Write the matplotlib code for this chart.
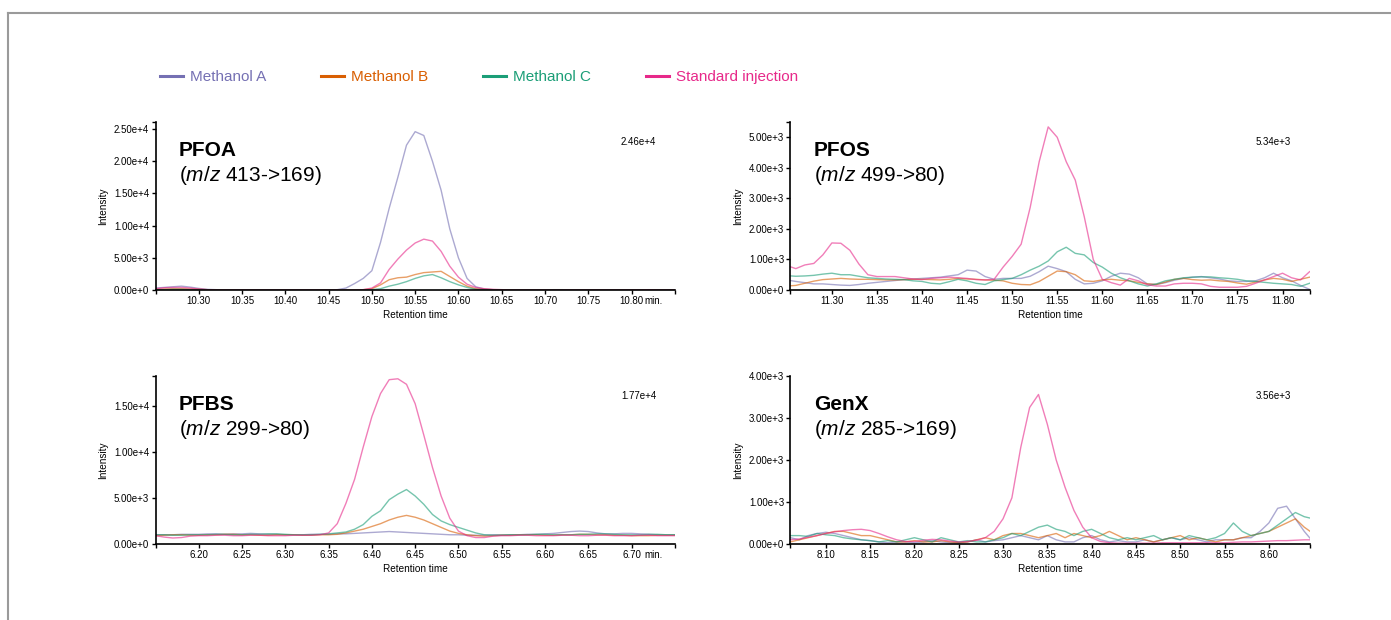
import numpy as np
import matplotlib
matplotlib.use("Agg")
import matplotlib.pyplot as plt
from matplotlib.lines import Line2D

plt.rcParams["font.family"] = ["Liberation Sans", "DejaVu Sans"]
plt.rcParams["mathtext.fontset"] = "custom"
plt.rcParams["mathtext.it"] = "Liberation Sans:italic"
plt.rcParams["mathtext.rm"] = "Liberation Sans"

series = ["Methanol A", "Methanol B", "Methanol C", "Standard injection"]
colors = ["#7570b3", "#d95f02", "#1b9e77", "#e7298a"]

# ---- PFOA (m/z 413->169): 10.25-10.85 min every 0.01, intensity x1e3
pfoa_t0, pfoa_dt, pfoa_scale = 10.25, 0.01, 1e3
pfoa_a = [0.3, 0.4, 0.5, 0.6, 0.45, 0.25, 0.1, 0.05, 0, 0,
          0, 0, 0, 0, 0, 0, 0, 0, 0, 0,
          0, 0.05, 0.3, 1.0, 1.8, 3.0, 7.4, 12.7, 17.5, 22.5,
          24.6, 24.0, 20.0, 15.5, 9.5, 5.0, 1.8, 0.5, 0.15, 0.05,
          0, 0, 0, 0, 0, 0, 0, 0, 0, 0,
          0, 0, 0, 0, 0, 0, 0, 0, 0, 0, 0]
pfoa_b = [0.1, 0.15, 0.2, 0.2, 0.15, 0.1, 0.05, 0, 0, 0,
          0, 0, 0, 0, 0, 0, 0, 0, 0, 0,
          0, 0, 0, 0, 0.05, 0.2, 0.8, 1.6, 1.9, 2.0,
          2.4, 2.7, 2.8, 2.9, 2.1, 1.3, 0.6, 0.2, 0.1, 0.05,
          0.05, 0.02, 0, 0, 0, 0, 0, 0, 0, 0,
          0, 0, 0, 0, 0, 0, 0, 0, 0, 0, 0]
pfoa_c = [0.05, 0.05, 0.1, 0.1, 0.05, 0, 0, 0, 0, 0,
          0, 0, 0, 0, 0, 0, 0, 0, 0, 0,
          0, 0, 0, 0, 0, 0.05, 0.2, 0.6, 0.9, 1.3,
          1.8, 2.2, 2.4, 1.9, 1.3, 0.8, 0.4, 0.1, 0.05, 0,
          0, 0, 0, 0, 0, 0, 0.05, 0.05, 0, 0,
          0, 0, 0, 0, 0, 0, 0, 0, 0, 0, 0]
pfoa_std = [0.2, 0.35, 0.4, 0.4, 0.3, 0.15, 0.05, 0, 0, 0,
            0, 0, 0, 0, 0, 0, 0, 0, 0, 0,
            0, 0, 0, 0, 0.05, 0.3, 1.1, 3.2, 4.8, 6.2,
            7.3, 7.9, 7.6, 6.0, 3.7, 2.0, 0.9, 0.4, 0.2, 0.1,
            0.05, 0, 0, 0, 0, 0, 0, 0, 0, 0,
            0, 0, 0, 0, 0, 0, 0, 0.05, 0, 0, 0]

# ---- PFOS (m/z 499->80): 11.25-11.83 min every 0.01, intensity x1e2
pfos_t0, pfos_dt, pfos_scale = 11.25, 0.01, 1e2
pfos_a = [3.3, 2.8, 2.4, 2.0, 2.0, 1.8, 1.6, 1.5, 1.8, 2.2,
          2.5, 2.8, 3.1, 3.4, 3.6, 3.8, 4.0, 4.2, 4.6, 5.0,
          6.5, 6.2, 4.4, 3.5, 3.8, 3.8, 3.8, 4.5, 6.0, 7.8,
          7.0, 6.0, 3.5, 2.0, 2.2, 3.0, 4.5, 5.5, 5.2, 4.0,
          2.0, 1.8, 2.4, 3.2, 3.8, 4.2, 4.4, 4.0, 3.6, 3.0,
          2.8, 2.8, 3.0, 4.0, 5.5, 4.0, 3.0, 1.5, 0.2]
pfos_b = [1.3, 1.5, 2.2, 2.9, 3.4, 3.6, 3.8, 3.6, 3.5, 3.5,
          3.4, 3.3, 3.3, 3.4, 3.5, 3.5, 3.4, 3.3, 3.5, 3.8,
          3.6, 3.5, 3.3, 3.2, 3.0, 2.2, 1.8, 1.7, 2.8, 4.5,
          6.2, 6.0, 5.0, 3.0, 2.8, 3.3, 3.5, 3.2, 3.0, 2.5,
          2.0, 1.8, 2.6, 3.5, 3.8, 3.4, 3.2, 3.3, 3.0, 2.8,
          2.3, 1.9, 2.6, 3.3, 3.8, 3.5, 2.8, 3.5, 4.2]
pfos_c = [4.7, 4.5, 4.6, 4.8, 5.2, 5.5, 5.0, 5.0, 4.5, 4.0,
          3.8, 3.6, 3.5, 3.4, 3.0, 2.8, 2.2, 2.0, 2.7, 3.5,
          3.0, 2.2, 1.8, 3.0, 3.4, 3.8, 5.0, 6.5, 7.8, 9.5,
          12.5, 14.0, 12.0, 11.5, 9.0, 7.5, 5.5, 4.0, 3.0, 2.0,
          1.3, 2.0, 3.0, 3.5, 4.0, 4.2, 4.3, 4.3, 4.0, 3.8,
          3.5, 3.0, 2.8, 2.5, 2.2, 2.0, 1.8, 1.2, 2.2]
pfos_std = [8.0, 7.0, 8.2, 8.7, 11.5, 15.4, 15.3, 13.0, 8.5, 5.0,
            4.4, 4.4, 4.4, 4.0, 3.6, 3.4, 3.8, 4.0, 4.2, 4.0,
            3.8, 3.4, 3.3, 3.5, 7.5, 11.0, 15.0, 27.0, 42.0, 53.4,
            50.0, 42.0, 36.0, 24.0, 10.0, 3.5, 2.4, 1.6, 3.8, 3.0,
            1.7, 1.3, 1.3, 2.0, 2.2, 2.2, 2.0, 1.2, 0.9, 0.9,
            0.9, 1.2, 2.2, 3.3, 4.4, 5.5, 4.0, 3.3, 6.0]

# ---- PFBS (m/z 299->80): 6.15-6.75 min every 0.01, intensity x1e3
pfbs_t0, pfbs_dt, pfbs_scale = 6.15, 0.01, 1e3
pfbs_a = [1.0, 1.0, 1.0, 1.05, 1.05, 1.05, 1.1, 1.1, 1.05, 1.1,
          1.1, 1.15, 1.1, 1.05, 1.05, 1.0, 1.0, 1.0, 1.05, 1.05,
          1.05, 1.1, 1.1, 1.15, 1.2, 1.25, 1.3, 1.35, 1.3, 1.25,
          1.2, 1.15, 1.1, 1.05, 1.0, 1.0, 0.95, 0.95, 0.95, 1.0,
          1.0, 1.0, 1.0, 1.05, 1.05, 1.1, 1.15, 1.25, 1.35, 1.4,
          1.35, 1.2, 1.1, 1.1, 1.15, 1.15, 1.1, 1.05, 1.0, 1.0, 1.0]
pfbs_b = [0.9, 0.95, 1.0, 1.0, 0.95, 0.95, 1.0, 1.0, 1.05, 1.05,
          1.0, 1.0, 0.95, 0.95, 1.0, 1.0, 1.0, 0.95, 0.95, 1.0,
          1.0, 1.05, 1.2, 1.4, 1.6, 1.9, 2.2, 2.6, 2.9, 3.1,
          2.9, 2.6, 2.2, 1.8, 1.4, 1.15, 1.0, 0.9, 0.85, 0.9,
          0.95, 0.95, 1.0, 1.0, 1.0, 0.95, 0.95, 1.0, 1.0, 1.05,
          1.05, 1.0, 1.0, 0.95, 0.95, 0.9, 0.9, 0.9, 0.95, 0.95, 0.95]
pfbs_c = [1.0, 1.0, 0.95, 0.95, 1.0, 1.0, 1.0, 1.05, 1.05, 1.0,
          1.0, 1.05, 1.05, 1.1, 1.1, 1.05, 1.0, 1.0, 1.0, 1.05,
          1.1, 1.2, 1.3, 1.6, 2.1, 3.0, 3.6, 4.8, 5.4, 5.9,
          5.2, 4.3, 3.2, 2.5, 2.1, 1.8, 1.5, 1.2, 1.0, 0.95,
          0.95, 1.0, 1.0, 1.0, 1.05, 1.05, 1.0, 1.0, 1.0, 1.05,
          1.05, 1.1, 1.1, 1.05, 1.0, 1.0, 1.0, 1.05, 1.05, 1.0, 1.0]
pfbs_std = [0.9, 0.75, 0.65, 0.7, 0.85, 0.9, 0.9, 0.95, 0.95, 0.9,
            0.9, 0.95, 0.95, 0.9, 0.9, 0.9, 0.95, 0.95, 0.95, 1.0,
            1.2, 2.2, 4.4, 7.0, 10.5, 13.8, 16.3, 17.8, 17.9, 17.3,
            15.2, 11.8, 8.3, 5.2, 2.8, 1.4, 0.9, 0.7, 0.7, 0.85,
            0.9, 0.9, 0.95, 0.95, 0.9, 0.9, 0.9, 0.95, 0.95, 0.9,
            0.9, 0.95, 0.95, 0.9, 0.9, 0.9, 0.95, 0.95, 0.9, 0.9, 0.9]

# ---- GenX (m/z 285->169): 8.06-8.65 min every 0.01, intensity x1e2
genx_t0, genx_dt, genx_scale = 8.06, 0.01, 1e2
genx_a = [1.5, 1.0, 2.0, 2.5, 2.8, 2.5, 2.0, 1.5, 1.0, 0.8,
          0.5, 0.3, 0.5, 0.5, 0.3, 0.5, 0.8, 0.5, 0.3, 0.3,
          0.5, 1.0, 0.5, 0.8, 1.0, 1.5, 2.0, 1.5, 1.0, 2.0,
          1.0, 0.5, 0.5, 1.5, 2.0, 1.0, 0.5, 0.8, 0.5, 0.5,
          1.0, 0.5, 1.0, 1.5, 1.0, 1.5, 1.0, 0.5, 1.0, 1.0,
          1.0, 1.5, 1.5, 3.0, 5.0, 8.5, 9.0, 6.0, 3.0, 0.5]
genx_b = [0.5, 1.0, 1.5, 2.0, 2.5, 3.0, 3.0, 2.5, 2.0, 2.0,
          1.5, 1.0, 0.5, 0.5, 0.8, 0.5, 0.5, 0.8, 0.5, 0.3,
          0.5, 1.0, 1.5, 1.0, 2.0, 2.5, 2.5, 2.0, 1.5, 2.0,
          2.5, 1.5, 2.5, 2.0, 1.5, 2.0, 3.0, 2.0, 1.0, 1.5,
          1.0, 0.5, 1.0, 1.5, 2.0, 1.0, 1.5, 1.0, 0.5, 1.0,
          1.0, 1.5, 2.0, 2.5, 3.0, 4.0, 5.0, 6.0, 4.0, 2.5]
genx_c = [2.0, 2.0, 1.8, 2.5, 2.2, 2.0, 1.5, 1.2, 1.0, 0.8,
          0.5, 0.8, 0.5, 1.0, 1.5, 1.0, 0.5, 1.5, 1.0, 0.5,
          0.8, 0.5, 0.5, 1.0, 1.5, 2.5, 2.0, 3.0, 4.0, 4.5,
          3.5, 3.0, 2.0, 3.0, 3.5, 2.5, 1.5, 1.0, 1.5, 1.0,
          1.5, 2.0, 1.0, 1.5, 1.0, 2.0, 1.5, 1.0, 1.5, 2.5,
          5.0, 3.0, 2.0, 2.5, 3.0, 4.5, 6.0, 7.5, 6.5, 6.0]
genx_std = [1.0, 1.2, 1.6, 2.0, 2.5, 2.9, 3.2, 3.4, 3.5, 3.2,
            2.5, 1.7, 1.0, 0.6, 0.6, 0.9, 1.1, 1.0, 0.7, 0.5,
            0.6, 0.9, 1.5, 3.0, 6.0, 11.0, 23.0, 32.5, 35.6, 28.5,
            20.0, 13.5, 8.0, 4.0, 1.5, 0.6, 0.3, 0.2, 0.2, 0.2,
            0.2, 0.2, 0.3, 0.3, 0.3, 0.3, 0.3, 0.3, 0.3, 0.3,
            0.4, 0.5, 0.5, 0.6, 0.7, 0.8, 0.8, 0.9, 1.0, 1.0]

# axis ticks and labels
pfoa_xticks = [10.30, 10.35, 10.40, 10.45, 10.50, 10.55, 10.60, 10.65, 10.70, 10.75, 10.80]
pfoa_xlabels = ["10.30", "10.35", "10.40", "10.45", "10.50", "10.55", "10.60",
                "10.65", "10.70", "10.75", "10.80"]
pfoa_yticks = [0, 5e3, 1e4, 1.5e4, 2e4, 2.5e4]
pfoa_ylabels = ["0.00e+0", "5.00e+3", "1.00e+4", "1.50e+4", "2.00e+4", "2.50e+4"]

pfos_xticks = [11.30, 11.35, 11.40, 11.45, 11.50, 11.55, 11.60, 11.65, 11.70, 11.75, 11.80]
pfos_xlabels = ["11.30", "11.35", "11.40", "11.45", "11.50", "11.55", "11.60",
                "11.65", "11.70", "11.75", "11.80"]
pfos_yticks = [0, 1e3, 2e3, 3e3, 4e3, 5e3]
pfos_ylabels = ["0.00e+0", "1.00e+3", "2.00e+3", "3.00e+3", "4.00e+3", "5.00e+3"]

pfbs_xticks = [6.20, 6.25, 6.30, 6.35, 6.40, 6.45, 6.50, 6.55, 6.60, 6.65, 6.70]
pfbs_xlabels = ["6.20", "6.25", "6.30", "6.35", "6.40", "6.45", "6.50",
                "6.55", "6.60", "6.65", "6.70"]
pfbs_yticks = [0, 5e3, 1e4, 1.5e4]
pfbs_ylabels = ["0.00e+0", "5.00e+3", "1.00e+4", "1.50e+4"]

genx_xticks = [8.10, 8.15, 8.20, 8.25, 8.30, 8.35, 8.40, 8.45, 8.50, 8.55, 8.60]
genx_xlabels = ["8.10", "8.15", "8.20", "8.25", "8.30", "8.35", "8.40",
                "8.45", "8.50", "8.55", "8.60"]
genx_yticks = [0, 1e3, 2e3, 3e3, 4e3]
genx_ylabels = ["0.00e+0", "1.00e+3", "2.00e+3", "3.00e+3", "4.00e+3"]

# ── Layout (pixel based) ─────────────────────────────────────────────
W, H = 1391, 620
fig = plt.figure(figsize=(W / 100, H / 100), dpi=100)


def rect(x0, x1, ytop, ybot):
    return [x0 / W, 1 - ybot / H, (x1 - x0) / W, (ybot - ytop) / H]


panels = [
    dict(name="PFOA", mz="413->169", peak="2.46e+4", t0=pfoa_t0, dt=pfoa_dt, scale=pfoa_scale,
         data=[pfoa_a, pfoa_b, pfoa_c, pfoa_std], xlim=(10.25, 10.85), ylim=(0, 2.61e4),
         xt=pfoa_xticks, xl=pfoa_xlabels, yt=pfoa_yticks, yl=pfoa_ylabels, minutes=True,
         pos=rect(155.5, 674.8, 122, 290)),
    dict(name="PFOS", mz="499->80", peak="5.34e+3", t0=pfos_t0, dt=pfos_dt, scale=pfos_scale,
         data=[pfos_a, pfos_b, pfos_c, pfos_std], xlim=(11.254, 11.83), ylim=(0, 5.5e3),
         xt=pfos_xticks, xl=pfos_xlabels, yt=pfos_yticks, yl=pfos_ylabels, minutes=False,
         pos=rect(790.4, 1309.6, 122, 290)),
    dict(name="PFBS", mz="299->80", peak="1.77e+4", t0=pfbs_t0, dt=pfbs_dt, scale=pfbs_scale,
         data=[pfbs_a, pfbs_b, pfbs_c, pfbs_std], xlim=(6.15, 6.75), ylim=(0, 1.82e4),
         xt=pfbs_xticks, xl=pfbs_xlabels, yt=pfbs_yticks, yl=pfbs_ylabels, minutes=True,
         pos=rect(155.5, 674.8, 376, 544)),
    dict(name="GenX", mz="285->169", peak="3.56e+3", t0=genx_t0, dt=genx_dt, scale=genx_scale,
         data=[genx_a, genx_b, genx_c, genx_std], xlim=(8.06, 8.646), ylim=(0, 4.0e3),
         xt=genx_xticks, xl=genx_xlabels, yt=genx_yticks, yl=genx_ylabels, minutes=False,
         pos=rect(790.4, 1309.6, 376, 544)),
]

tick_fs = 7
for p in panels:
    ax = fig.add_axes(p["pos"])
    for vals, col in zip(p["data"], colors):
        t = p["t0"] + p["dt"] * np.arange(len(vals))
        ax.plot(t, np.array(vals) * p["scale"], color=col, lw=1.0, alpha=0.6)

    ax.set_xlim(*p["xlim"])
    ax.set_ylim(*p["ylim"])
    ax.set_xticks(p["xt"])
    ax.set_xticklabels(p["xl"], fontsize=tick_fs)
    ax.set_yticks(p["yt"])
    ax.set_yticklabels(p["yl"], fontsize=tick_fs)
    # small end ticks at the ends of the axes
    ax.set_xticks(list(p["xlim"]), minor=True)
    ax.set_yticks([p["ylim"][1]], minor=True)
    ax.tick_params(which="both", direction="out", length=3, width=1, pad=1.5, color="black")

    for s in ["top", "right"]:
        ax.spines[s].set_visible(False)
    for s in ["left", "bottom"]:
        ax.spines[s].set_linewidth(1.2)

    ax.set_xlabel("Retention time", fontsize=7.2, labelpad=3)
    ax.set_ylabel("Intensity", fontsize=7.2, labelpad=4)

    if p["minutes"]:
        ax.annotate("min.", xy=(p["xt"][-1], 0), xycoords=("data", "axes fraction"),
                    xytext=(9.6, -4.1), textcoords="offset points",
                    ha="left", va="top", fontsize=tick_fs)

    ax.text(0.045, 0.83, p["name"], transform=ax.transAxes, fontsize=15,
            fontweight="bold", va="center", ha="left")
    ax.text(0.045, 0.68, r"($\it{m/z}$ " + p["mz"] + ")", transform=ax.transAxes,
            fontsize=15, va="center", ha="left")
    ax.text(0.93, 0.878, p["peak"], transform=ax.transAxes, fontsize=7,
            va="center", ha="center")

# legend across the top
handles = [Line2D([0], [0], color=c, lw=2.2) for c in colors]
fig.legend(handles, series, loc="center left", bbox_to_anchor=(160 / W, 1 - 77 / H),
           ncol=4, frameon=False, fontsize=11, handlelength=1.5, handletextpad=0.45,
           columnspacing=3.6, borderpad=0, borderaxespad=0, labelcolor=colors)

# grey frame (top and left edges)
fig.add_artist(Line2D([8 / W, 8 / W], [0, 1 - 13 / H], color="#9a9a9a", lw=1.5))
fig.add_artist(Line2D([8 / W, 1], [1 - 13 / H, 1 - 13 / H], color="#9a9a9a", lw=1.5))

fig.savefig("out.png", dpi=100)
